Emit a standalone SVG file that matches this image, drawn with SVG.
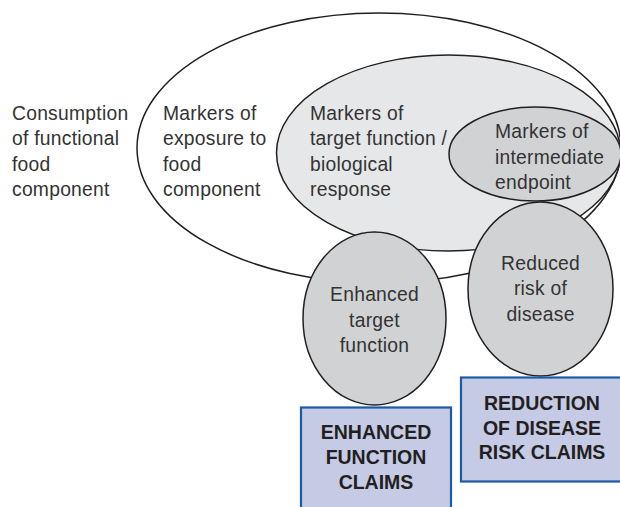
<svg xmlns="http://www.w3.org/2000/svg" width="620" height="507" viewBox="0 0 620 507">
<style>
.t{font-family:"Liberation Sans",Arial,sans-serif;font-size:19.3px;letter-spacing:0.25px;fill:#333333}
.c{text-anchor:middle}
.b{font-family:"Liberation Sans",Arial,sans-serif;font-size:19.5px;font-weight:bold;fill:#231f20;text-anchor:middle}
.ln{stroke:#231f20;stroke-width:1.5}
.box{fill:#c5cbe5;stroke:#1c5aa6;stroke-width:2.2}
</style>
<rect width="620" height="507" fill="#ffffff"/>
<g id="consumption">
<text class="t" x="12" y="119.5">Consumption</text>
<text class="t" x="12" y="145">of functional</text>
<text class="t" x="12" y="170.5">food</text>
<text class="t" x="12" y="196">component</text>
</g>
<g id="exposure">
<ellipse class="ln" cx="379" cy="148" rx="242" ry="135" fill="#ffffff"/>
<text class="t" x="163" y="119.5">Markers of</text>
<text class="t" x="163" y="145">exposure to</text>
<text class="t" x="163" y="170.5">food</text>
<text class="t" x="163" y="196">component</text>
</g>
<g id="target-function">
<ellipse class="ln" cx="448.5" cy="153" rx="172" ry="98" fill="#e6e7e9"/>
<text class="t" x="310" y="119.5">Markers of</text>
<text class="t" x="310" y="145">target function /</text>
<text class="t" x="310" y="170.5">biological</text>
<text class="t" x="310" y="196">response</text>
</g>
<g id="intermediate">
<ellipse class="ln" cx="535" cy="154" rx="86" ry="47" fill="#d1d2d4"/>
<text class="t" x="495" y="138">Markers of</text>
<text class="t" x="495" y="163.5">intermediate</text>
<text class="t" x="495" y="189">endpoint</text>
</g>
<g id="enhanced">
<ellipse class="ln" cx="374.5" cy="318.5" rx="71.5" ry="86.5" fill="#d1d2d4"/>
<text class="t c" x="374.5" y="300.5">Enhanced</text>
<text class="t c" x="374.5" y="326.5">target</text>
<text class="t c" x="374.5" y="352">function</text>
</g>
<g id="reduced">
<ellipse class="ln" cx="540.5" cy="289" rx="72.5" ry="87" fill="#d1d2d4"/>
<text class="t c" x="540.5" y="269.5">Reduced</text>
<text class="t c" x="540.5" y="295">risk of</text>
<text class="t c" x="540.5" y="320.5">disease</text>
</g>
<g id="enhanced-claims">
<rect class="box" x="301" y="407.5" width="150" height="110"/>
<text class="b" x="376" y="438.5">ENHANCED</text>
<text class="b" x="376" y="463.5">FUNCTION</text>
<text class="b" x="376" y="489">CLAIMS</text>
</g>
<g id="reduction-claims">
<rect class="box" x="461" y="377.5" width="162" height="104"/>
<text class="b" x="542" y="410">REDUCTION</text>
<text class="b" x="542" y="434.5">OF DISEASE</text>
<text class="b" x="542" y="459">RISK CLAIMS</text>
</g>
</svg>
